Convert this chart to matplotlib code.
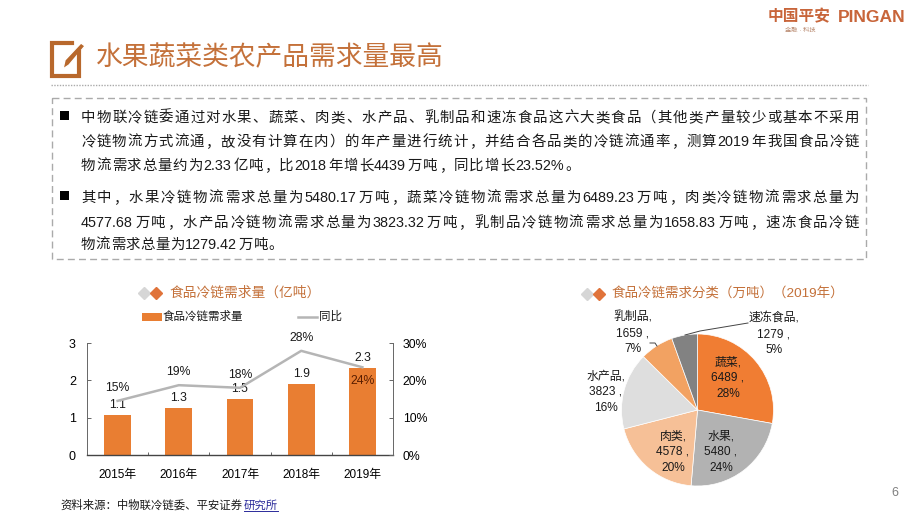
import re

import matplotlib
matplotlib.use("Agg")
import matplotlib.pyplot as plt
from matplotlib.patches import Polygon, Rectangle

plt.rcParams["font.family"] = ["Liberation Sans", "Noto Sans CJK SC"]

W, H = 920, 518
ORANGE = "#E97E32"
TITLE_COL = "#C4713A"
TEXT_COL = "#1A1A1A"
AXIS_COL = "#666666"

years = ["2015年", "2016年", "2017年", "2018年", "2019年"]
demand = [1.07, 1.27, 1.50, 1.90, 2.33]
demand_labels = ["1.1", "1.3", "1.5", "1.9", "2.3"]
growth = [14.5, 18.7, 18.0, 27.9, 23.5]
growth_labels = ["15%", "19%", "18%", "28%", "24%"]

pie_names = ["蔬菜", "水果", "肉类", "水产品", "乳制品", "速冻食品"]
pie_values = [6489, 5480, 4578, 3823, 1659, 1279]
pie_shares = ["28%", "24%", "20%", "16%", "7%", "5%"]
pie_colors = ["#F07D33", "#B2B2B2", "#F6C097", "#DEDEDE", "#F2A262", "#828282"]

body_lines = [
    "中物联冷链委通过对水果、蔬菜、肉类、水产品、乳制品和速冻食品这六大类食品（其他类产量较少或基本不采用",
    "冷链物流方式流通，故没有计算在内）的年产量进行统计，并结合各品类的冷链流通率，测算2019年我国食品冷链",
    "物流需求总量约为2.33亿吨，比2018年增长4439万吨，同比增长23.52%。",
    "其中，水果冷链物流需求总量为5480.17万吨，蔬菜冷链物流需求总量为6489.23万吨，肉类冷链物流需求总量为",
    "4577.68万吨，水产品冷链物流需求总量为3823.32万吨，乳制品冷链物流需求总量为1658.83万吨，速冻食品冷链",
    "物流需求总量为1279.42万吨。",
]
body_y = [117, 141, 165, 197, 222, 244]
body_end = [859, 859, 580, 859, 859, 283]
BODY_SIZE = 10.4


def px_axes(fig, left, top, width, height):
    return fig.add_axes([left / W, 1 - (top + height) / H, width / W, height / H])


def spaced_line(fig, ax, line, x0, x1, y):
    # the slide text is justified, so spread the characters out to the line end
    em = BODY_SIZE * 100 / 72
    renderer = fig.canvas.get_renderer()
    tokens = re.findall(r"[0-9.%]+|.", line)
    widths = []
    items = []
    for tok in tokens:
        t = ax.text(x0, y + 5, tok, fontsize=BODY_SIZE, color=TEXT_COL, va="baseline")
        items.append(t)
        if re.match(r"[0-9.%]", tok):
            widths.append(t.get_window_extent(renderer).width + 1)
        else:
            widths.append(em)
    gap = (x1 - x0 - sum(widths)) / (len(tokens) - 1)
    x = x0
    for t, w in zip(items, widths):
        t.set_x(x)
        x += w + gap


def draw_page(fig, ax):
    # title and icon
    ax.plot([79, 79, 52, 52, 72], [52, 76, 76, 43, 43], color="#B8682C", lw=3, solid_joinstyle="miter")
    ax.add_patch(Polygon([(63, 69), (65, 60), (81, 43), (85, 46), (69, 65)], fc="#B8682C", ec="white", lw=1))
    ax.text(96, 58, "水果蔬菜类农产品需求量最高", fontsize=19.3, color=TITLE_COL, va="center")
    ax.plot([51, 868], [85, 85], color="#AAAAAA", lw=1, ls=(0, (1, 1)))

    # logo
    ax.text(768, 17, "中国平安", fontsize=11.3, color="#C8653A", weight="bold", va="center")
    ax.text(838, 17, "PINGAN", fontsize=12.6, color="#C8653A", weight="bold", va="center")
    ax.text(800, 30, "金融 · 科技", fontsize=4.5, color="#B98A70", ha="center", va="center")

    # text box
    ax.add_patch(Rectangle((52, 98), 814, 161, fill=False, ec="#AAAAAA", lw=1, ls=(0, (5, 3))))
    for y in (body_y[0], body_y[3]):
        ax.add_patch(Rectangle((60.5, y - 6.5), 9, 9, fc="black", ec="none"))
    for line, y, end in zip(body_lines, body_y, body_end):
        spaced_line(fig, ax, line, 81, end, y)

    # footer
    ax.text(60, 505, "资料来源：中物联冷链委、平安证券", fontsize=8.2, color=TEXT_COL, va="center")
    ax.text(244, 505, "研究所", fontsize=8.2, color="#2A2A9A", va="center")
    ax.plot([244, 278], [511, 511], color="#2A2A9A", lw=0.7)
    ax.text(895, 493, "6", fontsize=9, color="#7F7F7F", ha="center", va="center")


def chart_title(ax, x, y, text, size, gap=12):
    ax.plot([x], [y], marker="D", ms=6.3, color="#D6D6D6", ls="none")
    ax.plot([x + gap], [y], marker="D", ms=6.3, color="#E0733A", ls="none")
    ax.text(x + gap + 13, y, text, fontsize=size, color=TITLE_COL, va="center")


def draw_bars(ax):
    x = list(range(len(years)))
    ax.bar(x, demand, width=0.44, color=ORANGE)
    ax.set_xlim(-0.5, 4.5)
    ax.set_ylim(0, 3)
    ax.set_yticks([0, 1, 2, 3])
    ax.set_xticks(x, years)
    ax.set_xticks([0.5, 1.5, 2.5, 3.5], minor=True)
    ax.tick_params(axis="y", direction="in", length=3, width=0.7, color=AXIS_COL, labelsize=9, pad=8)
    ax.tick_params(axis="x", which="major", length=0, labelsize=8.5, pad=10)
    ax.tick_params(axis="x", which="minor", direction="in", length=2, width=0.7, color=AXIS_COL)
    for s in ("top", "right"):
        ax.spines[s].set_visible(False)
    ax.spines["left"].set_color(AXIS_COL)
    ax.spines["left"].set_linewidth(0.7)
    ax.spines["bottom"].set_color("#444444")
    ax.spines["bottom"].set_linewidth(1)
    for i, v in enumerate(demand):
        ax.annotate(demand_labels[i], (i, v), xytext=(0, 7), textcoords="offset points",
                    ha="center", va="center", fontsize=8.8, color=TEXT_COL, zorder=5)

    ax2 = ax.twinx()
    ax2.plot(x, growth, color="#B5B5B5", lw=1.8)
    ax2.set_ylim(0, 30)
    ax2.set_yticks([0, 10, 20, 30], ["0%", "10%", "20%", "30%"])
    ax2.tick_params(axis="y", direction="in", length=3, width=0.7, color=AXIS_COL, labelsize=8.8, pad=7)
    for s in ("top", "left", "bottom"):
        ax2.spines[s].set_visible(False)
    ax2.spines["right"].set_color(AXIS_COL)
    ax2.spines["right"].set_linewidth(0.7)
    for i, v in enumerate(growth):
        dy = -10 if i == 4 else 9.5
        ax2.annotate(growth_labels[i], (i, v), xytext=(0, dy), textcoords="offset points",
                     ha="center", va="center", fontsize=8.8, color="#5A1E00" if i == 4 else TEXT_COL)


def draw_pie(ax):
    ax.pie(pie_values, colors=pie_colors, startangle=90, counterclock=False,
           wedgeprops={"edgecolor": "white", "linewidth": 0.5})


def main():
    fig = plt.figure(figsize=(W / 100, H / 100), dpi=100)

    page = px_axes(fig, 0, 0, W, H)
    page.set_xlim(0, W)
    page.set_ylim(H, 0)
    page.axis("off")
    draw_page(fig, page)

    # bar chart
    chart_title(page, 144, 293, "食品冷链需求量（亿吨）", 9.9)
    page.add_patch(Rectangle((142, 313), 20, 8, fc=ORANGE, ec="none"))
    page.text(163, 317, "食品冷链需求量", fontsize=8.3, color=TEXT_COL, va="center")
    page.plot([298, 317], [317, 317], color="#B5B5B5", lw=1.8)
    page.text(319, 317, "同比", fontsize=8.3, color=TEXT_COL, va="center")
    draw_bars(px_axes(fig, 87, 343, 306, 112))

    # pie chart
    chart_title(page, 587, 294, "食品冷链需求分类（万吨）（2019年）", 9.7)
    draw_pie(px_axes(fig, 602.5, 315, 190, 190))

    # pie labels go on top of the wedges
    overlay = px_axes(fig, 0, 0, W, H)
    overlay.set_xlim(0, W)
    overlay.set_ylim(H, 0)
    overlay.axis("off")
    label_xy = [(728, 378), (721, 452), (673, 452), (606, 392), (633, 333), (774, 334)]
    for i, (lx, ly) in enumerate(label_xy):
        overlay.text(lx, ly, f"{pie_names[i]},\n{pie_values[i]} ,\n{pie_shares[i]}", ha="center", va="center",
                     fontsize=8.6, color=TEXT_COL, linespacing=1.4)
    overlay.plot([685, 700, 748], [335, 331, 323], color="#444444", lw=0.7)
    overlay.plot([650, 655, 657], [343, 343, 346], color="#444444", lw=0.7)

    plt.savefig("out.png", dpi=100)


if __name__ == "__main__":
    main()
